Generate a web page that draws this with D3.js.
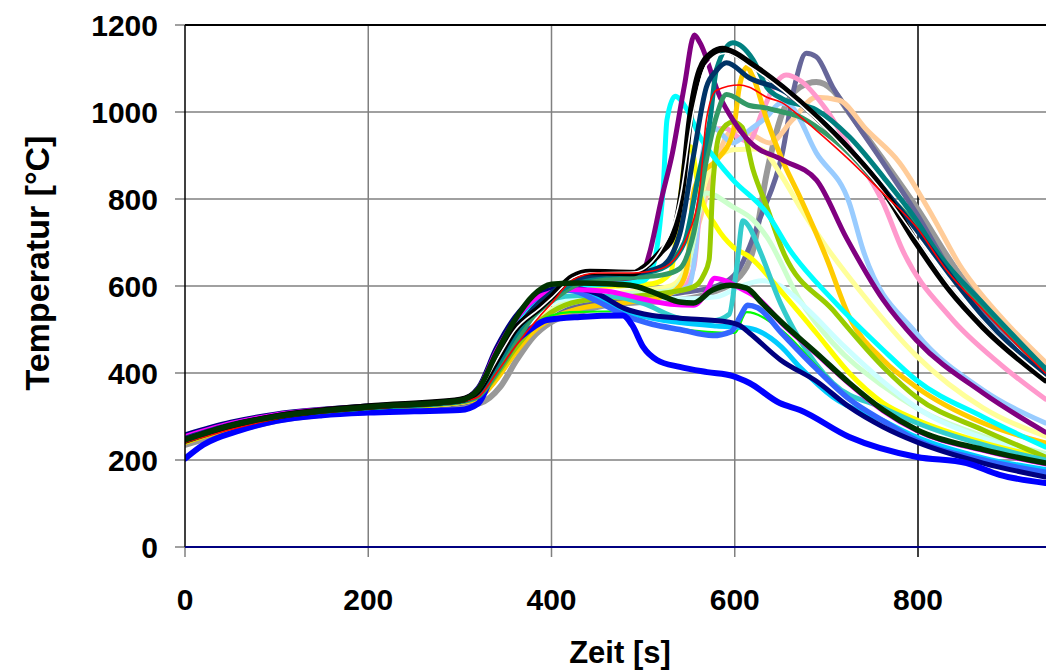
<!DOCTYPE html>
<html><head><meta charset="utf-8">
<script src="https://cdn.jsdelivr.net/npm/d3@7"></script>
<style>body{margin:0;background:#fff}svg{display:block}</style>
</head><body><svg id="c" width="1046" height="672"></svg>
<script>
const xTicks=[0,200,400,600,800];
const yTicks=[0,200,400,600,800,1000,1200];
const xTitle="Zeit [s]";
const yTitle="Temperatur [°C]";

const sGray=[[0,235],[50,265],[100,290],[200,312],[300,325],[322,331],[344,368],[362,430],[380,483],[398,515],[431,540],[460,556],[500,563],[540,568],[576,586],[605,621],[620,683],[635,860],[652,998],[671,1057],[689,1069],[707,1050],[725,998],[762,890],[798,782],[842,637],[890,515],[939,415]];
const sSlate=[[0,240],[50,272],[100,295],[200,316],[300,330],[320,342],[340,388],[360,450],[380,500],[400,532],[430,558],[480,568],[540,584],[580,600],[605,640],[616,690],[627,752],[652,906],[665,1057],[678,1135],[689,1127],[707,1057],[725,998],[762,883],[798,768],[835,637],[890,505],[939,410]];
const sPeach=[[0,243],[50,275],[100,297],[200,318],[300,332],[320,344],[340,392],[360,452],[380,505],[400,538],[430,568],[480,583],[520,588],[540,600],[562,752],[580,889],[598,958],[616,951],[638,929],[663,982],[689,1034],[714,1027],[744,959],[780,883],[816,760],[845,650],[890,530],[939,425]];
const sPink=[[0,245],[50,276],[100,298],[200,319],[300,333],[320,345],[340,395],[360,455],[380,507],[400,542],[430,570],[480,580],[540,590],[555,640],[565,850],[576,959],[590,962],[605,940],[615,932],[630,1000],[645,1067],[656,1085],[671,1073],[700,1005],[725,920],[762,791],[783,683],[835,529],[890,420],[939,340]];
const sLightBlue=[[0,245],[50,276],[100,298],[200,319],[300,333],[320,345],[340,394],[360,454],[380,506],[400,540],[430,565],[480,575],[520,580],[550,600],[558,700],[565,906],[575,966],[598,929],[616,958],[635,989],[650,1020],[660,1015],[689,906],[725,791],[740,683],[798,492],[871,361],[939,285]];
const sLightYellow=[[0,244],[50,276],[100,298],[200,319],[300,333],[320,345],[340,395],[360,455],[380,508],[400,545],[430,572],[480,585],[530,600],[550,660],[565,820],[580,890],[598,913],[627,915],[652,850],[671,782],[700,690],[740,580],[798,440],[871,320],[939,255]];
const sLightGreen=[[0,243],[50,275],[100,297],[200,318],[300,332],[320,344],[340,393],[360,453],[380,505],[400,542],[430,570],[480,582],[530,590],[548,640],[560,760],[569,814],[598,782],[620,752],[635,713],[671,568],[707,469],[762,370],[798,320],[871,255],[939,215]];
const sLightCyan=[[0,246],[50,278],[100,299],[200,320],[300,334],[320,350],[340,410],[360,475],[380,528],[400,560],[430,575],[480,578],[540,570],[580,575],[605,598],[630,612],[650,600],[680,545],[720,460],[762,380],[799,320],[871,250],[939,210]];
const sYellow=[[0,247],[50,280],[100,301],[200,321],[300,336],[320,356],[340,425],[360,495],[380,545],[400,578],[430,598],[470,600],[510,605],[530,630],[538,750],[545,880],[552,920],[560,830],[580,736],[598,690],[616,667],[652,584],[689,492],[725,400],[762,331],[799,292],[871,240],[939,205]];
const sGold=[[0,240],[50,272],[100,295],[200,317],[300,332],[320,342],[340,385],[360,445],[380,495],[400,525],[430,548],[480,562],[520,575],[540,600],[548,644],[555,814],[562,851],[580,889],[598,952],[605,1057],[613,1103],[620,1080],[635,982],[652,889],[671,805],[700,665],[725,529],[762,430],[798,368],[871,285],[939,239]];
const sYellowGreen=[[0,242],[50,274],[100,296],[200,318],[300,333],[320,345],[340,395],[360,455],[380,505],[400,540],[430,565],[480,575],[520,583],[555,598],[566,625],[572,660],[576,828],[584,952],[598,977],[608,965],[620,867],[635,782],[652,683],[707,545],[762,414],[798,345],[871,269],[939,207]];
const sCyan=[[0,248],[50,280],[100,301],[200,321],[300,336],[320,360],[340,445],[360,515],[380,562],[400,585],[430,600],[470,605],[500,612],[510,640],[518,736],[522,828],[526,982],[535,1036],[548,1005],[562,943],[580,889],[598,844],[635,768],[660,683],[707,568],[762,453],[798,384],[871,299],[939,230]];
const sPurple=[[0,250],[50,282],[100,303],[200,322],[300,336],[320,356],[340,425],[360,495],[380,548],[400,582],[430,605],[460,614],[490,620],[500,632],[507,676],[520,800],[532,906],[545,1060],[556,1177],[562,1159],[584,1034],[598,982],[616,932],[652,890],[689,844],[722,710],[762,568],[798,476],[871,354],[939,264]];
const sTurquoise=[[0,246],[50,279],[100,300],[200,320],[300,335],[320,354],[340,420],[360,490],[380,540],[400,570],[430,578],[470,575],[500,560],[540,526],[576,520],[594,535],[602,640],[609,750],[616,735],[627,683],[650,560],[671,476],[707,377],[762,320],[799,285],[871,235],[939,200]];
const sLime=[[0,247],[50,279],[100,300],[200,320],[300,335],[320,348],[340,405],[360,465],[380,510],[400,532],[420,540],[485,542],[500,522],[540,502],[600,492],[613,540],[650,500],[690,415],[725,340],[762,288],[799,244],[871,199],[939,171]];
const sDeepSky=[[0,250],[50,281],[100,301],[200,320],[300,336],[320,360],[340,448],[360,518],[380,565],[400,585],[420,590],[450,572],[480,542],[510,526],[540,516],[580,508],[616,503],[650,462],[671,414],[707,345],[762,290],[799,252],[871,205],[939,178]];
const sRoyalBlue=[[0,252],[50,283],[100,302],[200,321],[300,336],[320,362],[340,452],[360,522],[380,566],[400,586],[420,590],[450,565],[480,532],[510,512],[540,500],[576,486],[596,495],[606,530],[614,556],[625,550],[652,490],[689,410],[725,340],[762,290],[799,245],[871,200],[939,172]];
const sNavy=[[0,258],[50,287],[100,306],[200,324],[300,338],[320,366],[340,458],[360,528],[380,572],[400,592],[420,596],[450,582],[480,548],[510,532],[540,526],[587,519],[605,510],[616,492],[650,430],[690,380],[725,322],[762,276],[799,241],[871,193],[939,161]];
const sMagenta=[[0,254],[50,284],[100,304],[200,323],[300,338],[320,363],[340,450],[360,520],[380,568],[400,585],[420,592],[460,588],[500,570],[530,558],[555,556],[568,582],[578,618],[590,612],[605,596],[625,572],[652,513],[689,444],[725,375],[762,313],[799,267],[871,222],[939,191]];
const sBlue=[[0,203],[20,235],[60,268],[100,290],[150,303],[200,309],[250,312],[300,315],[320,330],[340,420],[360,470],[376,499],[395,522],[431,529],[478,532],[488,510],[500,460],[515,430],[540,414],[570,402],[598,393],[616,377],[649,331],[671,315],[725,253],[799,207],[853,193],[889,166],[939,147]];
const sSeaGreen=[[0,248],[50,279],[100,300],[200,320],[300,334],[320,346],[340,400],[360,465],[380,530],[400,565],[430,605],[460,615],[490,620],[520,625],[540,640],[555,720],[570,900],[580,990],[591,1040],[616,1015],[635,1009],[652,1000],[671,989],[689,966],[725,905],[762,820],[798,740],[835,640],[890,510],[939,405]];
const sTeal=[[0,245],[50,277],[100,299],[200,320],[300,335],[320,352],[340,415],[360,485],[380,540],[400,575],[430,612],[460,625],[490,628],[520,640],[545,700],[560,850],[573,982],[580,1097],[598,1159],[620,1120],[635,1057],[652,1030],[689,1005],[725,943],[762,851],[798,752],[820,680],[871,560],[939,410]];
const sDarkNavy=[[0,250],[50,281],[100,302],[200,322],[300,336],[320,356],[340,425],[360,495],[380,548],[400,585],[430,618],[460,628],[490,630],[520,645],[540,720],[555,900],[569,1057],[580,1095],[591,1113],[616,1078],[652,1050],[689,990],[725,915],[762,825],[798,730],[835,625],[871,530],[939,395]];
const sBlack=[[0,245],[50,278],[100,300],[200,323],[300,338],[320,360],[340,430],[360,500],[387,550],[400,575],[423,621],[442,632],[490,630],[500,641],[520,680],[532,713],[543,828],[551,982],[562,1097],[575,1135],[587,1145],[600,1135],[616,1113],[652,1057],[689,989],[725,913],[762,821],[798,700],[835,590],[871,506],[939,384]];
const sWhite=[[0,248],[50,280],[100,301],[200,323],[300,338],[320,358],[340,428],[360,498],[387,548],[400,572],[423,618],[442,630],[490,632],[520,685],[540,800],[555,1000],[570,1110],[590,1135],[616,1105],[652,1050],[689,982],[725,905],[762,815],[798,710],[835,600],[871,515],[939,390]];
const sRed=[[0,240],[50,270],[100,295],[200,318],[300,333],[320,345],[340,400],[360,460],[387,530],[400,560],[423,614],[450,630],[490,630],[520,640],[548,713],[562,828],[569,982],[580,1050],[605,1062],[616,1057],[635,1034],[652,1021],[671,990],[689,958],[725,890],[762,813],[798,736],[831,637],[871,545],[939,400]];
const sDarkGreen=[[0,246],[50,279],[100,300],[200,322],[300,337],[320,362],[340,446],[360,522],[380,578],[400,604],[430,607],[460,605],[490,600],[520,578],[540,563],[555,561],[575,590],[595,602],[613,595],[630,560],[652,515],[689,446],[725,377],[762,315],[799,269],[871,224],[939,193]];

const seriesData=[sGray,sSlate,sPeach,sPink,sLightBlue,sLightYellow,sLightGreen,sLightCyan,sYellow,sGold,sYellowGreen,sCyan,sPurple,sTurquoise,sLime,sDeepSky,sRoyalBlue,sNavy,sMagenta,sBlue,sSeaGreen,sTeal,sDarkNavy,sBlack,sWhite,sRed,sDarkGreen];
const seriesColors=["#999999","#666699","#FFCC99","#FF99CC","#99CCFF","#FFFF99","#CCFFCC","#CCFFFF","#FFFF00","#FFCC00","#99CC00","#00FFFF","#800080","#33CCCC","#00FF00","#00CCFF","#3366FF","#000080","#FF00FF","#0000FF","#339966","#008080","#003366","#000000","#FFFFFF","#FF0000","#003300"];
const seriesWidths=[6,5,5,5,5,5,5,5,5,5,5,5,5,5,2.2,5,5.5,5,5,6,5,5,5,6.5,1.6,1.6,5.5];

const svg=d3.select("#c");
const x=d3.scaleLinear().domain([0,800]).range([185,918]);
const y=d3.scaleLinear().domain([0,1200]).range([547,25]);
const font='"Liberation Sans", Arial, sans-serif';

// grid
svg.append("g").selectAll("line").data(yTicks.filter(d=>d>0&&d<1200)).join("line")
  .attr("x1",175).attr("x2",1046).attr("y1",d=>y(d)).attr("y2",d=>y(d))
  .attr("stroke","#808080").attr("stroke-width",1.5);
svg.append("g").selectAll("line").data(xTicks.filter(d=>d>0)).join("line")
  .attr("x1",d=>x(d)).attr("x2",d=>x(d)).attr("y1",25).attr("y2",557)
  .attr("stroke",d=>d===800?"#000":"#808080").attr("stroke-width",1.5);
svg.append("line").attr("x1",175).attr("x2",185).attr("y1",y(1200)).attr("y2",y(1200)).attr("stroke","#808080").attr("stroke-width",1.5);
svg.append("line").attr("x1",175).attr("x2",185).attr("y1",y(0)).attr("y2",y(0)).attr("stroke","#808080").attr("stroke-width",1.5);
svg.append("line").attr("x1",x(0)).attr("x2",x(0)).attr("y1",547).attr("y2",557).attr("stroke","#808080").attr("stroke-width",1.5);

// lines
svg.append("defs").append("clipPath").attr("id","clp").append("rect").attr("x",185).attr("y",0).attr("width",861).attr("height",560);
const line=d3.line().x(d=>x(d[0])).y(d=>y(d[1])).curve(d3.curveMonotoneX);
const g=svg.append("g").attr("clip-path","url(#clp)");
seriesData.forEach((s,i)=>{
  g.append("path").datum(s).attr("d",line).attr("fill","none")
   .attr("stroke",seriesColors[i]).attr("stroke-width",seriesWidths[i])
   .attr("stroke-linejoin","round").attr("stroke-linecap","round");
});

// frame
svg.append("line").attr("x1",185).attr("x2",1046).attr("y1",25).attr("y2",25).attr("stroke","#000").attr("stroke-width",2);
svg.append("line").attr("x1",185).attr("x2",185).attr("y1",25).attr("y2",547).attr("stroke","#000").attr("stroke-width",1.5);
svg.append("line").attr("x1",185).attr("x2",1046).attr("y1",547).attr("y2",547).attr("stroke","#000080").attr("stroke-width",2);

// tick labels
svg.append("g").selectAll("text").data(yTicks).join("text")
  .attr("x",158).attr("y",d=>y(d)).attr("dy","0.36em").attr("text-anchor","end")
  .attr("font-family",font).attr("font-weight","bold").attr("font-size",30).text(d=>d);
svg.append("g").selectAll("text").data(xTicks).join("text")
  .attr("x",d=>x(d)).attr("y",610).attr("text-anchor","middle")
  .attr("font-family",font).attr("font-weight","bold").attr("font-size",30).text(d=>d);
svg.append("text").attr("x",620).attr("y",663).attr("text-anchor","middle")
  .attr("font-family",font).attr("font-weight","bold").attr("font-size",31).text(xTitle);
svg.append("text").attr("transform","translate(49,263) rotate(-90)").attr("text-anchor","middle")
  .attr("font-family",font).attr("font-weight","bold").attr("font-size",34).text(yTitle);
</script></body></html>
